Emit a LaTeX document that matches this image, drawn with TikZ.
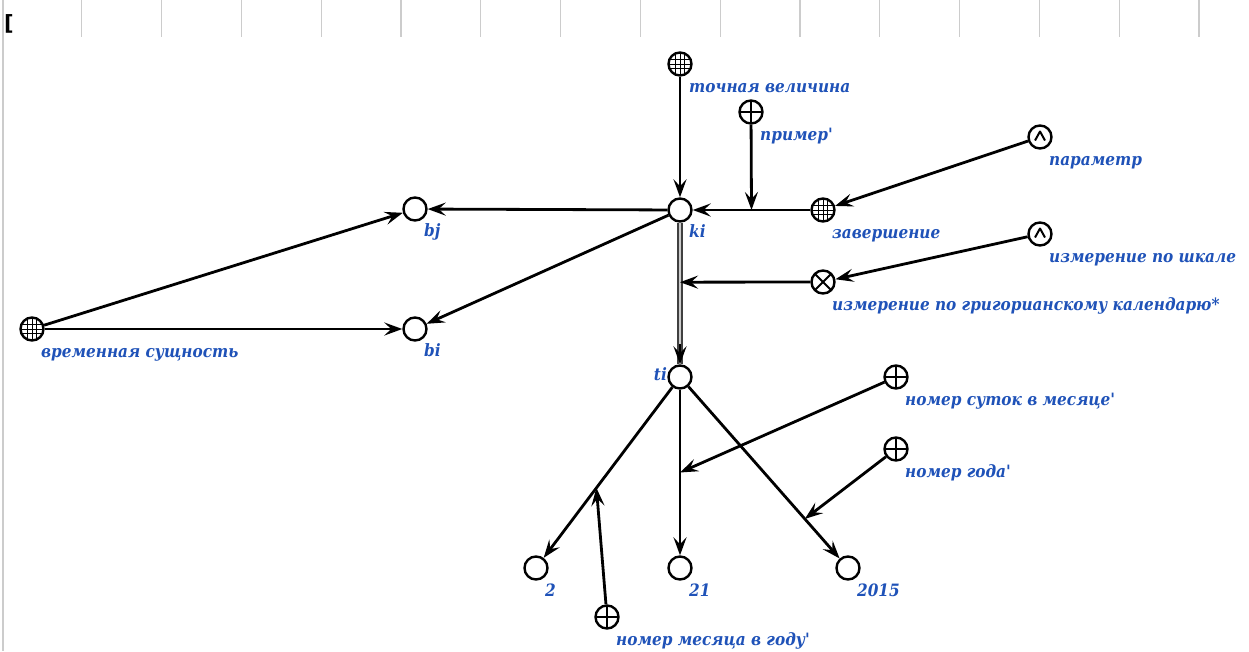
\documentclass[tikz,border=0pt]{standalone}
\usepackage{fontspec}
\setmainfont{DejaVu Serif Condensed}
\newfontfamily\brkfont{DejaVu Sans}
\usetikzlibrary{arrows.meta,positioning}
\definecolor{lblblue}{rgb}{0.12,0.32,0.72}
\definecolor{gridgray}{rgb}{0.80,0.80,0.80}

\begin{document}
\begin{tikzpicture}[x=1pt, y=-1pt,
  vert/.style={draw, circle, line width=2.4pt, minimum size=23pt, inner sep=0pt, fill=white},
  hatched/.style={vert, path picture={
      \foreach \d in {-4.5,0,4.5} {
        \draw[line width=0.6pt] ([xshift=\d pt]path picture bounding box.north) -- ([xshift=\d pt]path picture bounding box.south);
        \draw[line width=0.6pt] ([yshift=\d pt]path picture bounding box.west) -- ([yshift=\d pt]path picture bounding box.east);
      }}},
  plus/.style={vert, path picture={
      \draw[line width=2pt] (path picture bounding box.north) -- (path picture bounding box.south);
      \draw[line width=2pt] (path picture bounding box.west) -- (path picture bounding box.east);}},
  times/.style={vert, path picture={
      \draw[line width=2pt] (path picture bounding box.north west) -- (path picture bounding box.south east);
      \draw[line width=2pt] (path picture bounding box.south west) -- (path picture bounding box.north east);}},
  caret/.style={vert, path picture={
      \draw[line width=2pt, line join=round] ([shift={(-5pt,-3.5pt)}]path picture bounding box.center)
        -- ([shift={(0pt,5.5pt)}]path picture bounding box.center)
        -- ([shift={(5pt,-3.5pt)}]path picture bounding box.center);}},
  lbl/.style={text=lblblue, font=\bfseries\itshape\fontsize{17}{19}\selectfont, inner sep=0pt, anchor=base west},
  arr/.style={-{Stealth[length=18pt, width=13pt, inset=7pt]}, line width=2.8pt},
  dbl/.style={draw=black!75, double=black!20, double distance=2pt, line width=1.6pt}
]
  \useasboundingbox (0,0) rectangle (1249,651);

  % header strip
  \foreach \k in {1,...,15}
    \draw[gridgray, line width=1.2pt] ({2+79.8*\k},0) -- ++(0,37);
  \draw[gridgray, line width=1.2pt] (3,0) -- (3,651);
  \node[font=\brkfont\bfseries\fontsize{21}{21}\selectfont, inner sep=0pt, anchor=base west] (brk) at (4,30) {[};

  % nodes
  \node[hatched] (tv)  at (680, 64)  {};
  \node[plus]    (pr)  at (751, 112) {};
  \node[caret]   (pa)  at (1040, 137) {};
  \node[hatched] (zv)  at (823, 210) {};
  \node[vert]    (ki)  at (680, 210) {};
  \node[vert]    (bj)  at (415, 209) {};
  \node[vert]    (bi)  at (415, 329) {};
  \node[hatched] (vs)  at (32, 329)  {};
  \node[caret]   (ish) at (1040, 234) {};
  \node[times]   (igk) at (823, 282) {};
  \node[vert]    (ti)  at (680, 377) {};
  \node[plus]    (ns)  at (896, 377) {};
  \node[plus]    (ng)  at (896, 449) {};
  \node[vert]    (d2)  at (536, 568) {};
  \node[vert]    (d21) at (680, 568) {};
  \node[vert]    (y15) at (848, 568) {};
  \node[plus]    (nm)  at (607, 617) {};

  % labels
  \node[lbl] (tv-l)  at ([shift={(9,28)}]tv.center)  {точная величина};
  \node[lbl] (pr-l)  at ([shift={(9,28)}]pr.center)  {пример\textquotesingle};
  \node[lbl] (pa-l)  at ([shift={(9,28)}]pa.center)  {параметр};
  \node[lbl] (zv-l)  at ([shift={(9,28)}]zv.center)  {завершение};
  \node[lbl] (ki-l)  at ([shift={(9,27)}]ki.center)  {ki};
  \node[lbl] (bj-l)  at ([shift={(9,27)}]bj.center)  {bj};
  \node[lbl] (bi-l)  at ([shift={(9,27)}]bi.center)  {bi};
  \node[lbl] (vs-l)  at ([shift={(9,28)}]vs.center)  {временная сущность};
  \node[lbl] (ish-l) at ([shift={(9,28)}]ish.center) {измерение по шкале};
  \node[lbl] (igk-l) at ([shift={(9,28)}]igk.center) {измерение по григорианскому календарю*};
  \node[lbl, anchor=base east] (ti-l) at ([shift={(-13,3)}]ti.center) {ti};
  \node[lbl] (ns-l)  at ([shift={(9,28)}]ns.center)  {номер суток в месяце\textquotesingle};
  \node[lbl] (ng-l)  at ([shift={(9,28)}]ng.center)  {номер года\textquotesingle};
  \node[lbl] (d2-l)  at ([shift={(9,28)}]d2.center)  {2};
  \node[lbl] (d21-l) at ([shift={(9,28)}]d21.center) {21};
  \node[lbl] (y15-l) at ([shift={(9,28)}]y15.center) {2015};
  \node[lbl] (nm-l)  at ([shift={(9,28)}]nm.center)  {номер месяца в году\textquotesingle};

  % connectors
  \draw[arr] (tv) -- (ki);
  \draw[arr] (zv) -- coordinate[pos=0.5] (zv-ki) (ki);
  \draw[arr] (pr) -- (zv-ki);
  \draw[arr] (pa) -- (zv);
  \draw[arr] (ki) -- (bj);
  \draw[arr] (ki) -- (bi);
  \draw[arr] (vs) -- (bj);
  \draw[arr] (vs) -- (bi);
  \draw[dbl] (ki) -- coordinate[pos=0.42] (ki-ti) coordinate[pos=0.86] (ki-ti2) (ti);
  \draw[arr] (ki-ti2) -- (ti);
  \draw[arr] (igk) -- (ki-ti);
  \draw[arr] (ish) -- (igk);
  \draw[arr] (ti) -- coordinate[pos=0.59] (ti-d2) (d2);
  \draw[arr] (ti) -- coordinate[pos=0.5] (ti-d21) (d21);
  \draw[arr] (ti) -- coordinate[pos=0.77] (ti-y15) (y15);
  \draw[arr] (ns) -- (ti-d21);
  \draw[arr] (ng) -- (ti-y15);
  \draw[arr] (nm) -- (ti-d2);
\end{tikzpicture}
\end{document}
